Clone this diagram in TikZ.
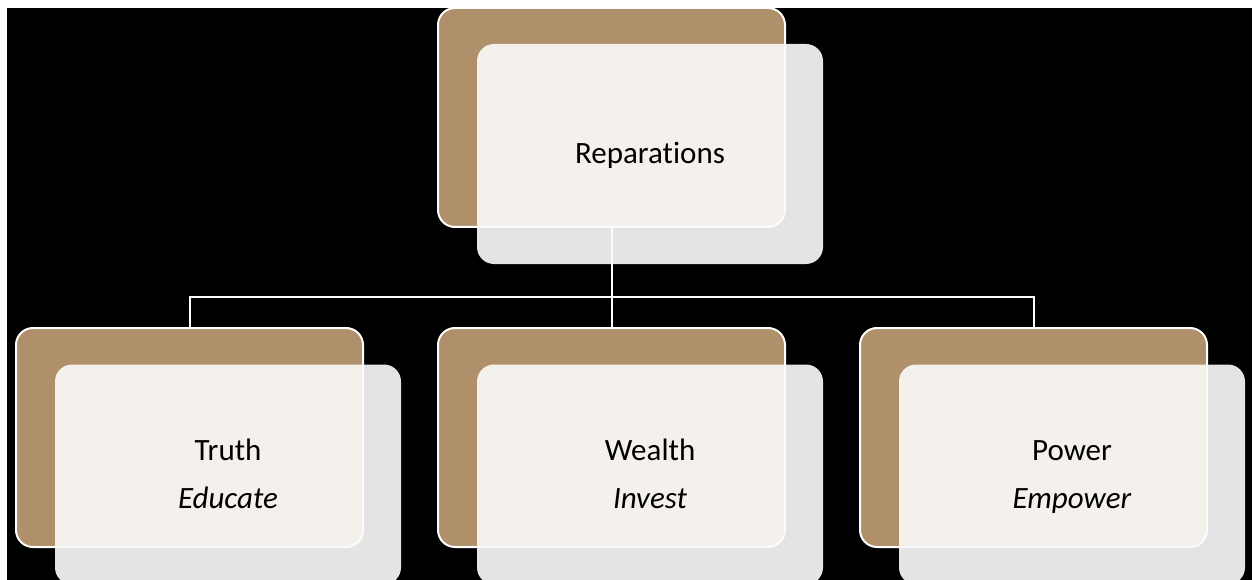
\documentclass[tikz,border=0pt]{standalone}
\usepackage{fontspec}
\setmainfont[Ligatures=NoCommon]{Carlito}
\usepackage{tikz}
\usetikzlibrary{positioning}
\definecolor{tanbox}{HTML}{B0906A}
\definecolor{veil}{HTML}{FBFBFB}

\begin{document}
\begin{tikzpicture}[
  x=1pt, y=-1pt,
  node distance=101pt and 75pt,
  back/.style={draw=white, line width=2pt, rounded corners=17pt, fill=tanbox, minimum width=347pt, minimum height=219pt, inner sep=0pt, outer sep=0pt},
  front/.style={fill=veil, fill opacity=0.91, text opacity=1, rounded corners=17pt, minimum width=346pt, minimum height=220pt, inner sep=0pt, align=center, font=\fontsize{31}{48}\selectfont},
  link/.style={draw=white, line width=2pt}]
\useasboundingbox (0,0) rectangle (1253,580);
\clip (0,0) rectangle (1253,580);
\fill[white] (0,0) rectangle (1253,580);
\fill[black] (7,8) rectangle (1252,580);
\node[back] (rep) at (611.5,117.5) {};
\node[back, below=of rep] (wealth) {};
\node[back, left=of wealth] (truth) {};
\node[back, right=of wealth] (power) {};
% connectors
\draw[link] (rep.south) -- ++(0,70) coordinate (hub);
\draw[link] (hub) -| (truth.north);
\draw[link] (hub) -| (power.north);
\draw[link] (hub) -- (wealth.north);
% light cards
\node[front] (rep-f) at ([shift={(38.5,36.5)}]rep) {\strut Reparations};
\node[front] (truth-f) at ([shift={(38.5,37)}]truth) {\strut Truth\\\strut\textit{Educate}};
\node[front] (wealth-f) at ([shift={(38.5,37)}]wealth) {\strut Wealth\\\strut\textit{Invest}};
\node[front] (power-f) at ([shift={(38.5,37)}]power) {\strut Power\\\strut\textit{Empower}};
\end{tikzpicture}
\end{document}
